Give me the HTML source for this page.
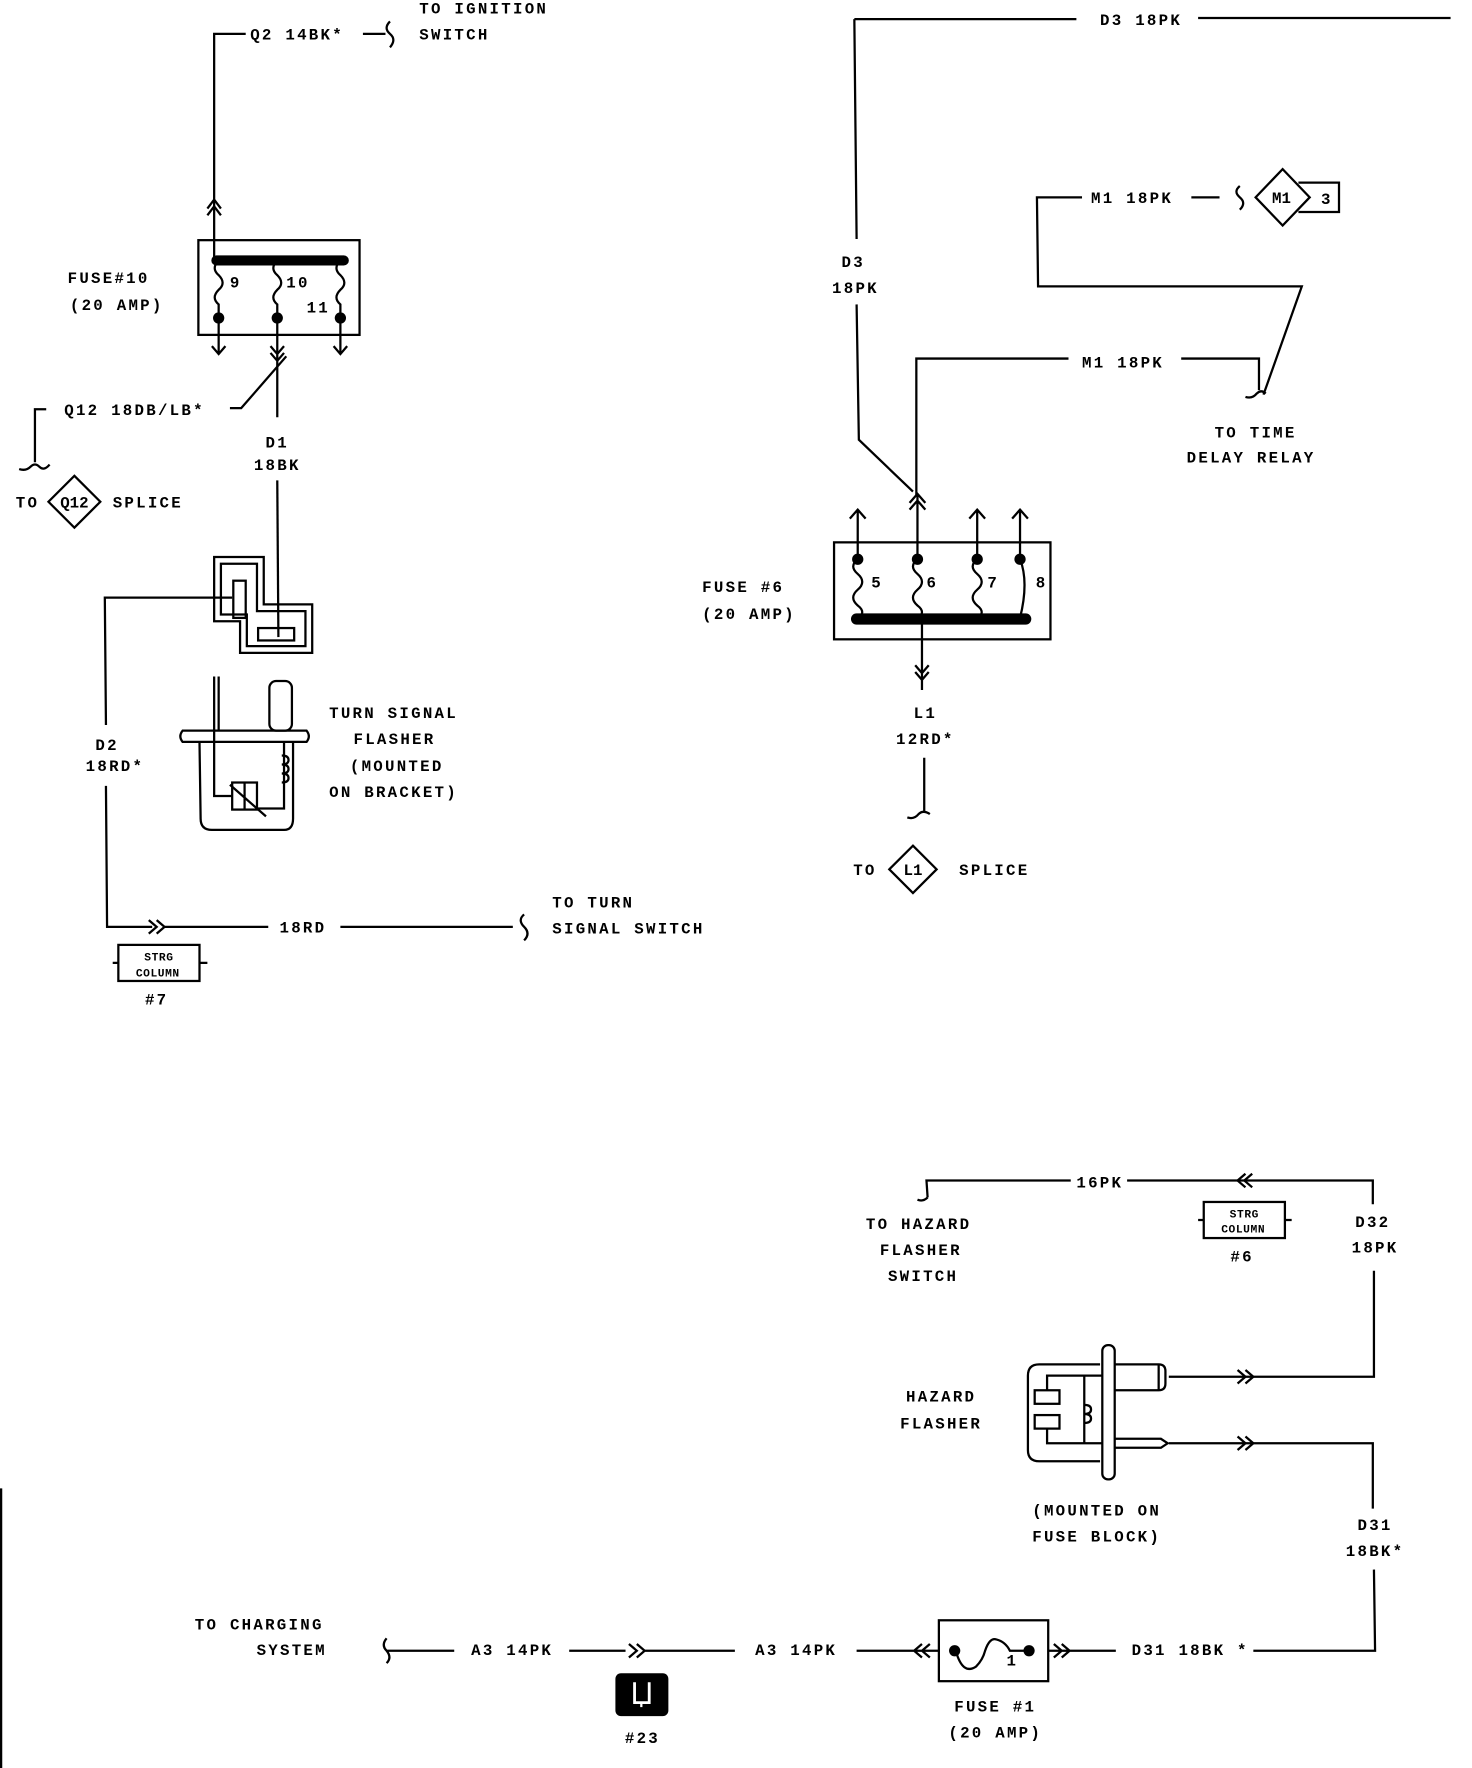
<!DOCTYPE html>
<html><head><meta charset="utf-8"><style>
html,body{margin:0;padding:0;background:#fff;}
svg{display:block;}
text{font-family:"Liberation Mono",monospace;font-weight:bold;font-size:14px;letter-spacing:2px;fill:#000;}
.s{font-size:10px;letter-spacing:0.5px;}
</style></head><body>
<svg width="1472" height="1768" viewBox="0 0 1306 1568" preserveAspectRatio="none" xmlns="http://www.w3.org/2000/svg">
<g fill="none" stroke="#000" stroke-width="2">
<!-- ===== TOP LEFT ===== -->
<path d="M190,232 L190,30 L218,30"/>
<path d="M322,30 L342,30 M346,19 q-6,6 0,11 q6,5 0,12"/>
<path d="M184,185 L190,177 L196,185 M184,191 L190,183 L196,191"/>
<rect x="176" y="213" width="143" height="84"/>
<path d="M192,231 L305,231" stroke-width="9" stroke-linecap="round"/>
<path d="M194,231 q-7,7 0,13 q7,7 0,13 q-7,7 0,13 L194,283"/>
<path d="M246,231 q-7,7 0,13 q7,7 0,13 q-7,7 0,13 L246,283"/>
<path d="M302,231 q-7,7 0,13 q7,7 0,13 q-7,7 0,13 L302,283"/>
<path d="M194,283 L194,313 M188,307 L194,314 L200,307"/>
<path d="M246,283 L246,370 M240,307 L246,314 L252,307 M240,313 L246,320 L252,313"/>
<path d="M302,283 L302,313 M296,307 L302,314 L308,307"/>
<path d="M204,362 L214,362 L254,316"/>
<path d="M41,363 L31,363 L31,410 M17,416 q6,2 10,-2 q4,-4 8,0 q4,4 9,-2"/>
<path d="M66,422 L89,445 L66,468 L43,445 Z"/>
<path d="M246,426 L247,565"/>
<path d="M190,494 L234,494 L234,536 L277,536 L277,579 L213,579 L213,551 L190,551 Z"/>
<path d="M196,500 L228,500 L228,542 L271,542 L271,573 L219,573 L219,545 L196,545 Z"/>
<rect x="207" y="515" width="11" height="33"/>
<rect x="229" y="557" width="32" height="11"/>
<path d="M206,530 L93,530 L94,643 M94,697 L95,822 L135,822"/>
<path d="M132,816 L139,822 L132,828 M139,816 L146,822 L139,828 M146,822 L238,822"/>
<path d="M302,822 L455,822 M465,811 q-6,5 0,11 q6,6 0,12"/>
<rect x="105" y="838" width="72" height="32"/>
<path d="M100,854 L105,854 M177,854 L184,854"/>
<path d="M162,648 L272,648 q4,5 0,10 L162,658 q-4,-5 0,-10 Z"/>
<path d="M177,658 L178,726 q0,10 10,10 L252,736 q8,0 8,-10 L260,658"/>
<path d="M190,600 L190,706 L206,706 M194,600 L194,648"/>
<rect x="239" y="604" width="20" height="44" rx="6"/>
<path d="M252,658 L252,717 L228,717"/>
<rect x="206" y="694" width="22" height="24"/>
<path d="M217,694 L217,718 M204,696 L236,724"/>
<path d="M250,670 q6,0 6,4 q0,4 -6,4 q6,0 6,4 q0,4 -6,4 q6,0 6,4 q0,4 -6,4"/>
<!-- ===== TOP RIGHT ===== -->
<path d="M758,17 L955,17 M1063,16 L1287,16" />
<path d="M758,17 L760,212 M760,270 L762,390 L810,436"/>
<path d="M813,440 L813,318 L948,318 M1048,318 L1117,318 L1117,346"/>
<path d="M1105,352 q6,2 10,-3 q4,-4 8,0"/>
<path d="M960,175 L920,175 L921,254 L1155,254 L1121,350"/>
<path d="M1057,175 L1082,175 M1100,165 q-6,5 0,10 q6,5 0,11"/>
<path d="M1138,150 L1162,175 L1138,200 L1114,175 Z"/>
<path d="M1152,162 L1188,162 L1188,188 L1152,188"/>
<rect x="740" y="481" width="192" height="86"/>
<path d="M760,549 L910,549" stroke-width="10" stroke-linecap="round"/>
<path d="M761,496 L761,452 M754,460 L761,452 L768,460"/>
<path d="M814,496 L814,438 M807,452 L814,444 L821,452 M807,446 L814,438 L821,446"/>
<path d="M867,496 L867,452 M860,460 L867,452 L874,460"/>
<path d="M905,496 L905,452 M898,460 L905,452 L912,460"/>
<path d="M761,496 q-8,6 0,13 q8,7 0,14 q-8,7 0,14 q8,6 0,12"/>
<path d="M814,496 q-8,6 0,13 q8,7 0,14 q-8,7 0,14 q8,6 0,12"/>
<path d="M867,496 q-8,6 0,13 q8,7 0,14 q-8,7 0,14 q8,6 0,12"/>
<path d="M905,496 q8,20 0,52"/>
<path d="M818,549 L818,612 M812,590 L818,597 L824,590 M812,596 L818,603 L824,596"/>
<path d="M820,672 L820,720 M805,725 q6,2 10,-3 q4,-4 10,0"/>
<path d="M810,750 L831,771 L810,792 L789,771 Z"/>
<!-- ===== BOTTOM ===== -->
<path d="M823,1062 L822,1047 L950,1047 M1000,1047 L1218,1047 L1218,1068"/>
<path d="M814,1064 q5,2 9,-2"/>
<path d="M1105,1041 L1098,1047 L1105,1053 M1111,1041 L1104,1047 L1111,1053"/>
<rect x="1068" y="1066" width="72" height="32"/>
<path d="M1063,1082 L1068,1082 M1140,1082 L1146,1082"/>
<path d="M1219,1127 L1219,1221 L1037,1221"/>
<path d="M1098,1215 L1105,1221 L1098,1227 M1105,1215 L1112,1221 L1105,1227"/>
<path d="M1037,1280 L1218,1280 L1218,1338 M1219,1392 L1220,1464 L1112,1464"/>
<path d="M1098,1274 L1105,1280 L1098,1286 M1105,1274 L1112,1280 L1105,1286"/>
<path d="M922,1210 L976,1210 M922,1210 q-10,0 -10,10 L912,1286 q0,10 10,10 L976,1296"/>
<rect x="978" y="1193" width="11" height="119" rx="5"/>
<path d="M989,1210 L1028,1210 q6,0 6,6 L1034,1227 q0,6 -6,6 L989,1233 M1028,1210 L1028,1233"/>
<path d="M989,1276 L1030,1276 L1036,1280 L1030,1284 L989,1284"/>
<path d="M929,1233 L929,1220 L978,1220 M929,1267 L929,1280 L978,1280 M962,1220 L962,1280"/>
<rect x="918" y="1233" width="22" height="12"/>
<rect x="918" y="1255" width="22" height="12"/>
<path d="M962,1246 q6,0 6,4 q0,4 -6,4 q6,0 6,4 q0,4 -6,4"/>
<path d="M343,1453 q-5,6 0,11 q5,6 0,11 M343,1464 L403,1464"/>
<path d="M505,1464 L555,1464 M558,1458 L565,1464 L558,1470 M565,1458 L572,1464 L565,1470 M572,1464 L652,1464"/>
<path d="M760,1464 L833,1464 M818,1458 L811,1464 L818,1470 M825,1458 L818,1464 L825,1470"/>
<rect x="833" y="1437" width="97" height="54"/>
<path d="M930,1464 L990,1464 M935,1458 L942,1464 L935,1470 M942,1458 L949,1464 L942,1470"/>
<path d="M848,1464 q6,22 18,14 q6,-6 8,-14 q4,-12 10,-10 q8,2 12,10 L912,1464"/>
<path d="M1113,1464 L1113,1464"/>
<path d="M1,1320 L1,1568"/>
</g>
<g fill="#000">
<circle cx="194" cy="282" r="5"/><circle cx="246" cy="282" r="5"/><circle cx="302" cy="282" r="5"/>
<circle cx="761" cy="496" r="5"/><circle cx="814" cy="496" r="5"/><circle cx="867" cy="496" r="5"/><circle cx="905" cy="496" r="5"/>
<circle cx="847" cy="1464" r="5"/><circle cx="913" cy="1464" r="5"/>
<rect x="546" y="1484" width="47" height="38" rx="5"/>
</g>
<path d="M563,1492 L563,1510 L576,1510 L576,1492" fill="none" stroke="#fff" stroke-width="2.5"/>
<path d="M569,1510 L569,1514" stroke="#fff" stroke-width="2"/>
<!-- text -->
<text x="222" y="35">Q2 14BK*</text>
<text x="372" y="12">TO IGNITION</text>
<text x="372" y="35">SWITCH</text>
<text x="60" y="251">FUSE#10</text>
<text x="62" y="275">(20 AMP)</text>
<text x="204" y="255">9</text><text x="254" y="255">10</text><text x="272" y="277">11</text>
<text x="57" y="368">Q12 18DB/LB*</text>
<text x="246" y="397" text-anchor="middle">D1</text>
<text x="246" y="417" text-anchor="middle">18BK</text>
<text x="14" y="450">TO</text>
<text x="66" y="450" text-anchor="middle" style="letter-spacing:0">Q12</text>
<text x="100" y="450">SPLICE</text>
<text x="292" y="637">TURN SIGNAL</text>
<text x="350" y="660" text-anchor="middle">FLASHER</text>
<text x="352" y="684" text-anchor="middle">(MOUNTED</text>
<text x="292" y="707">ON BRACKET)</text>
<text x="95" y="665" text-anchor="middle">D2</text>
<text x="102" y="684" text-anchor="middle">18RD*</text>
<text x="248" y="827">18RD</text>
<text x="490" y="805">TO TURN</text>
<text x="490" y="828">SIGNAL SWITCH</text>
<text class="s" x="141" y="852" text-anchor="middle">STRG</text>
<text class="s" x="140" y="866" text-anchor="middle">COLUMN</text>
<text x="139" y="891" text-anchor="middle">#7</text>
<text x="976" y="22">D3 18PK</text>
<text x="757" y="237" text-anchor="middle">D3</text>
<text x="759" y="260" text-anchor="middle">18PK</text>
<text x="968" y="180">M1 18PK</text>
<text x="1137" y="180" text-anchor="middle" style="letter-spacing:0">M1</text>
<text x="1172" y="181">3</text>
<text x="960" y="326">M1 18PK</text>
<text x="1114" y="388" text-anchor="middle">TO TIME</text>
<text x="1110" y="410" text-anchor="middle">DELAY RELAY</text>
<text x="623" y="525">FUSE #6</text>
<text x="623" y="549">(20 AMP)</text>
<text x="773" y="521">5</text><text x="822" y="521">6</text><text x="876" y="521">7</text><text x="919" y="521">8</text>
<text x="821" y="637" text-anchor="middle">L1</text>
<text x="821" y="660" text-anchor="middle">12RD*</text>
<text x="757" y="776">TO</text>
<text x="810" y="776" text-anchor="middle" style="letter-spacing:0">L1</text>
<text x="851" y="776">SPLICE</text>
<text x="955" y="1053">16PK</text>
<text x="815" y="1090" text-anchor="middle">TO HAZARD</text>
<text x="817" y="1113" text-anchor="middle">FLASHER</text>
<text x="819" y="1136" text-anchor="middle">SWITCH</text>
<text class="s" x="1104" y="1080" text-anchor="middle">STRG</text>
<text class="s" x="1103" y="1093" text-anchor="middle">COLUMN</text>
<text x="1102" y="1119" text-anchor="middle">#6</text>
<text x="1218" y="1088" text-anchor="middle">D32</text>
<text x="1220" y="1111" text-anchor="middle">18PK</text>
<text x="835" y="1243" text-anchor="middle">HAZARD</text>
<text x="835" y="1267" text-anchor="middle">FLASHER</text>
<text x="973" y="1344" text-anchor="middle">(MOUNTED ON</text>
<text x="973" y="1367" text-anchor="middle">FUSE BLOCK)</text>
<text x="1220" y="1357" text-anchor="middle">D31</text>
<text x="1220" y="1380" text-anchor="middle">18BK*</text>
<text x="1004" y="1468">D31 18BK *</text>
<text x="230" y="1445" text-anchor="middle">TO CHARGING</text>
<text x="290" y="1468" text-anchor="end">SYSTEM</text>
<text x="418" y="1468">A3 14PK</text>
<text x="670" y="1468">A3 14PK</text>
<text x="893" y="1477">1</text>
<text x="570" y="1546" text-anchor="middle">#23</text>
<text x="883" y="1518" text-anchor="middle">FUSE #1</text>
<text x="883" y="1541" text-anchor="middle">(20 AMP)</text>
</svg>
</body></html>
